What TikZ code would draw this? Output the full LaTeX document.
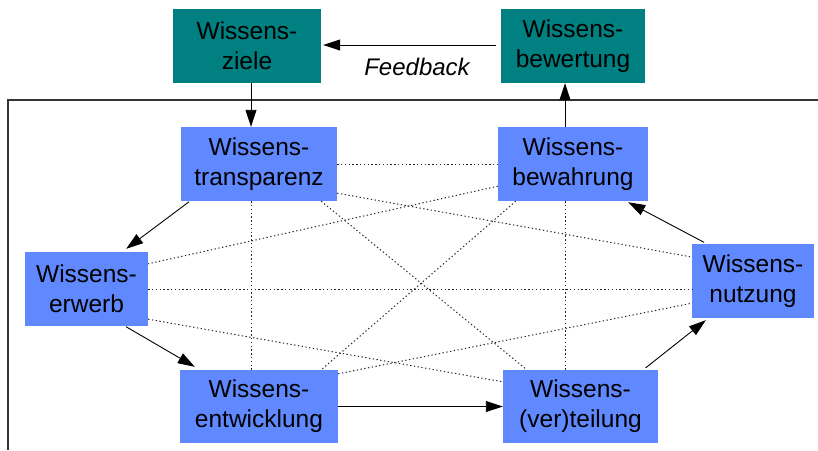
\documentclass[tikz,border=0pt]{standalone}
\usepackage{fontspec}
\setmainfont{Liberation Sans}
\usetikzlibrary{arrows.meta}
\definecolor{tealbox}{HTML}{008080}
\definecolor{bluebox}{HTML}{6088FF}
\begin{document}
\begin{tikzpicture}[x=1pt,y=-1pt,
  box/.style={draw=none,inner sep=0pt,minimum height=74pt,align=center,
    font=\fontsize{24.5}{30}\selectfont,text=black},
  goalbox/.style={box,fill=tealbox},
  procbox/.style={box,fill=bluebox},
  flow/.style={draw=black,line width=0.9pt,-{Triangle[length=17pt,width=11pt]}},
  link/.style={draw=black!85,line width=1pt,dash pattern=on 1.3pt off 2.5pt},
  frame/.style={draw=black!80,line width=1.2pt}]
\useasboundingbox (0,0) rectangle (818,450);
\fill[white] (0,0) rectangle (818,450);
% frame
\coordinate (f1) at (818,100);
\coordinate (f2) at (8,100);
\coordinate (f3) at (8,450);
\draw[frame] (f1) -- (f2) -- (f3);
% nodes
\node[goalbox,minimum width=148pt] (z) at (247,46) {Wissens-\\ziele};
\node[goalbox,minimum width=144pt] (b) at (573,46) {Wissens-\\bewertung};
\node[procbox,minimum width=156pt] (t) at (259,164) {Wissens-\\transparenz};
\node[procbox,minimum width=150pt] (bw) at (573,164) {Wissens-\\bewahrung};
\node[procbox,minimum width=123pt] (e) at (86.5,289) {Wissens-\\erwerb};
\node[procbox,minimum width=122pt] (n) at (753,281) {Wissens-\\nutzung};
\node[procbox,minimum width=158pt,minimum height=73pt] (d) at (259,406.5) {Wissens-\\entwicklung};
\node[procbox,minimum width=155pt,minimum height=73pt] (v) at (580.5,406.5) {Wissens-\\(ver)teilung};
\node[font=\fontsize{24}{28}\selectfont\itshape] (fb) at (417,67) {Feedback};
% dotted links
\draw[link] (t.east) -- (t.east -| bw.west);
\draw[link] ([xshift=-8pt]t.south) -- ([xshift=-8pt]t.south |- d.north);
\draw[link] ([xshift=-8pt]bw.south) -- ([xshift=-8pt]bw.south |- v.north);
\draw[link] (e.east) -- (e.east -| n.west);
\draw[link] ([yshift=8pt]t.south east) -- ([yshift=24pt]n.west);
\draw[link] ([xshift=-16pt]t.south east) -- ([xshift=24pt]v.north west);
\draw[link] ([yshift=15pt]bw.south west) -- ([yshift=-12pt]e.north east);
\draw[link] ([xshift=18pt]bw.south west) -- ([xshift=-17pt]d.north east);
\draw[link] ([yshift=7pt]e.south east) -- ([yshift=-12pt]v.north west);
\draw[link] ([yshift=-4pt]d.north east) -- ([yshift=15pt]n.south west);
% arrows
\draw[flow] ([xshift=4pt]z.south) -- ([xshift=-8pt]t.north);
\draw[flow] ([xshift=-8pt]bw.north) -- ([xshift=-8pt]b.south);
\draw[flow,shorten <=5pt,shorten >=2pt] ([yshift=1pt]b.west) -- ([yshift=1pt]z.east);
\draw[flow,shorten <=1pt] ([xshift=9pt]t.south west) -- ([xshift=-22pt,yshift=3pt]e.north east);
\draw[flow,shorten <=1pt] ([xshift=-23pt]e.south east) -- ([xshift=15pt,yshift=3pt]d.north west);
\draw[flow] (d.east) -- (v.west);
\draw[flow,shorten <=3pt] ([xshift=-15pt]v.north east) -- ([xshift=14pt,yshift=-2pt]n.south west);
\draw[flow,shorten <=3pt] ([xshift=15pt]n.north west) -- ([xshift=-20pt,yshift=-1pt]bw.south east);
\end{tikzpicture}
\end{document}
